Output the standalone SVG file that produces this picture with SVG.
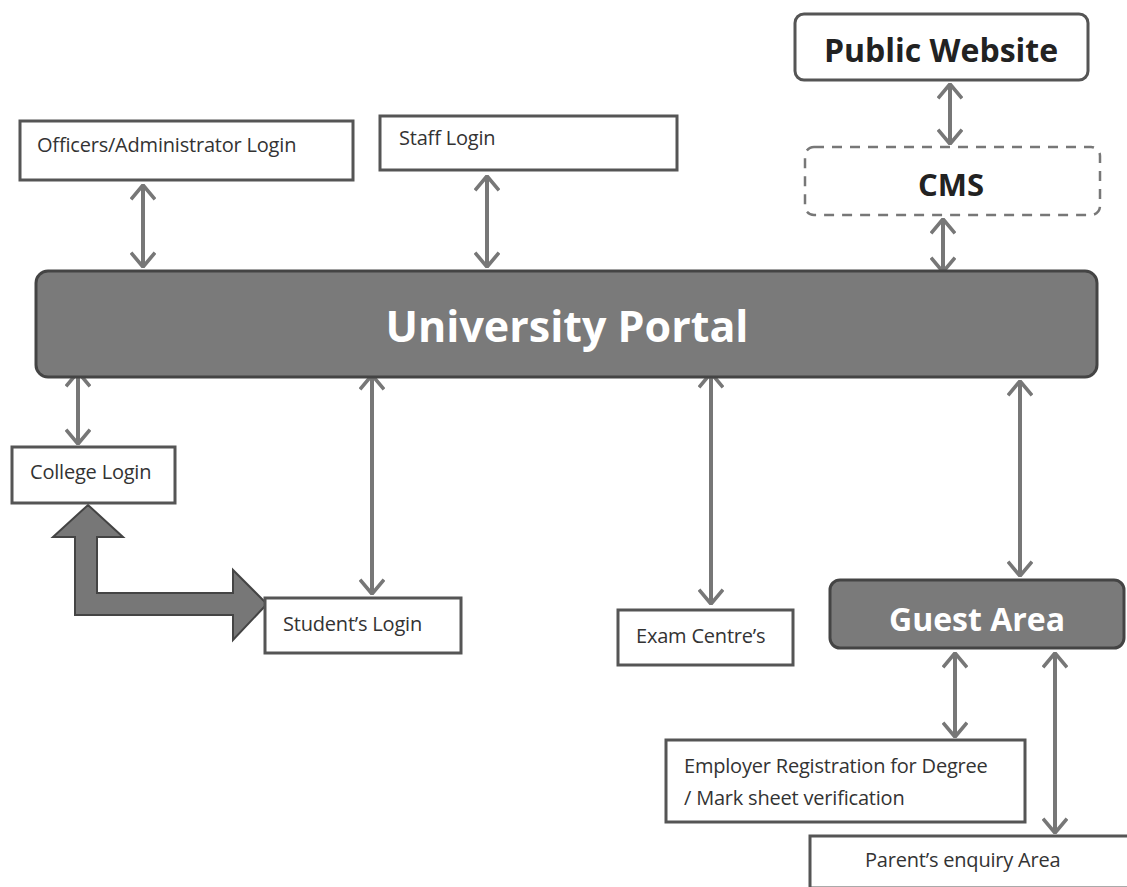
<svg xmlns="http://www.w3.org/2000/svg" width="1127" height="887" viewBox="0 0 1127 887">
<defs>
<style>
.box{fill:#fff;stroke:#555;stroke-width:3}
.dark{fill:#7a7a7a;stroke:#444;stroke-width:3}
.t{font-family:"Open Sans","Liberation Sans",sans-serif;font-size:20px;fill:#333;letter-spacing:-0.2px}
.b{font-family:"Open Sans","Liberation Sans",sans-serif;font-weight:bold;fill:#222}
.w{font-family:"Open Sans","Liberation Sans",sans-serif;font-weight:bold;fill:#fff}
.c{stroke:#777;stroke-width:4;fill:none;marker-start:url(#h);marker-end:url(#h)}
</style>
<marker id="h" viewBox="0 0 14 22" refX="13" refY="11" markerWidth="4.2" markerHeight="6.6" orient="auto-start-reverse" markerUnits="strokeWidth">
<polyline points="1,1 13,11 1,21" fill="none" stroke="#777" stroke-width="3"/>
</marker>
</defs>
<rect width="1127" height="887" fill="#fff"/>
<g id="connectors">
<line class="c" x1="143" y1="185" x2="143" y2="267"/>
<line class="c" x1="487" y1="176" x2="487" y2="267"/>
<line class="c" x1="950" y1="84" x2="950" y2="144"/>
<line class="c" x1="943" y1="219" x2="943" y2="272"/>
<line class="c" x1="78" y1="372" x2="78" y2="444"/>
<line class="c" x1="372" y1="375" x2="372" y2="594"/>
<line class="c" x1="711" y1="373" x2="711" y2="604"/>
<line class="c" x1="1020" y1="381" x2="1020" y2="576"/>
<line class="c" x1="955" y1="653" x2="955" y2="737"/>
<line class="c" x1="1055" y1="653" x2="1055" y2="833"/>
<polygon points="88,505 123,537 97,537 97,593 233,593 233,570 267,604 233,640 233,615 75,615 75,537 53,537" fill="#777" stroke="#444" stroke-width="2"/>
</g>
<g id="officers"><rect class="box" x="20" y="121" width="333" height="59"/><text class="t" x="37" y="152">Officers/Administrator Login</text></g>
<g id="staff"><rect class="box" x="380" y="116" width="297" height="54"/><text class="t" x="399" y="145">Staff Login</text></g>
<g id="public"><rect class="box" x="795" y="14" width="293" height="66" rx="9"/><text class="b" x="941" y="62" font-size="32" text-anchor="middle">Public Website</text></g>
<g id="cms"><rect x="805" y="147" width="295" height="68" rx="9" fill="#fff" stroke="#777" stroke-width="2.5" stroke-dasharray="10,8"/><text class="b" x="951" y="196" font-size="31" text-anchor="middle">CMS</text></g>
<g id="portal"><rect class="dark" x="36" y="271" width="1061" height="106" rx="12"/><text class="w" x="567" y="342" font-size="43" text-anchor="middle">University Portal</text></g>
<g id="college"><rect class="box" x="12" y="447" width="163" height="56"/><text class="t" x="30" y="479">College Login</text></g>
<g id="student"><rect class="box" x="265" y="598" width="196" height="55"/><text class="t" x="283" y="631">Student’s Login</text></g>
<g id="exam"><rect class="box" x="618" y="610" width="175" height="55"/><text class="t" x="636" y="643">Exam Centre’s</text></g>
<g id="guest"><rect class="dark" x="830" y="580" width="294" height="68" rx="10"/><text class="w" x="977" y="631" font-size="32" text-anchor="middle">Guest Area</text></g>
<g id="employer"><rect class="box" x="666" y="740" width="359" height="82"/><text class="t" x="684" y="773">Employer Registration for Degree</text><text class="t" x="684" y="805">/ Mark sheet verification</text></g>
<g id="parent"><rect class="box" x="810" y="836" width="330" height="52"/><text class="t" x="865" y="867">Parent’s enquiry Area</text></g>
</svg>
